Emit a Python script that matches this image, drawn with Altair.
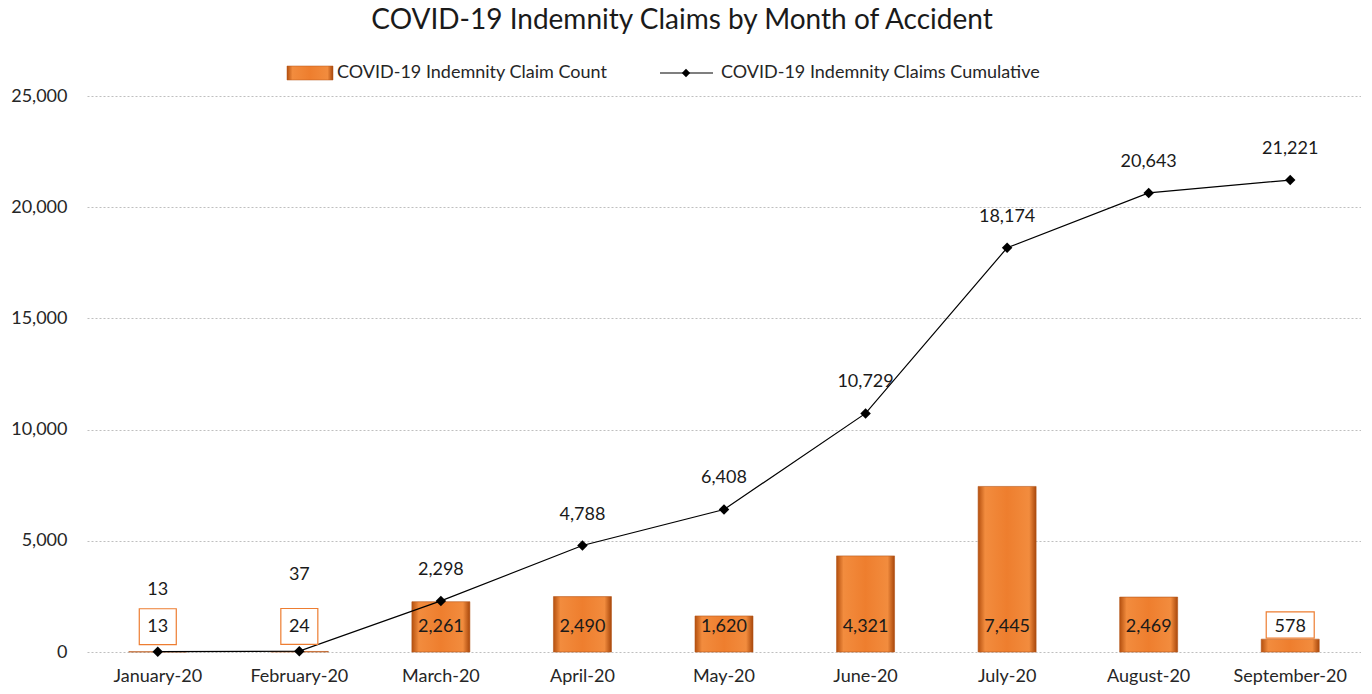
import altair as alt
import pandas as pd

months = ["January-20", "February-20", "March-20", "April-20", "May-20",
          "June-20", "July-20", "August-20", "September-20"]
counts = [13, 24, 2261, 2490, 1620, 4321, 7445, 2469, 578]
cumulative = [13, 37, 2298, 4788, 6408, 10729, 18174, 20643, 21221]
y_ticks = [0, 5000, 10000, 15000, 20000, 25000]

title_text = "COVID-19 Indemnity Claims by Month of Accident"
legend_bar = "COVID-19 Indemnity Claim Count"
legend_line = "COVID-19 Indemnity Claims Cumulative"

df = pd.DataFrame({"month": months, "count": counts, "cum": cumulative})
df["count_lbl"] = df["count"].map(lambda v: f"{v:,}")
df["cum_lbl"] = df["cum"].map(lambda v: f"{v:,}")

FONT = "Lato"
ORANGE = "#ED7D31"
TXT = "#1a1a1a"
grad = alt.LinearGradient(
    gradient="linear", x1=0, x2=1, y1=0, y2=0,
    stops=[alt.GradientStop(color="#B4500F", offset=0),
           alt.GradientStop(color="#F28C3E", offset=0.12),
           alt.GradientStop(color="#EE7E2E", offset=0.5),
           alt.GradientStop(color="#F28C3E", offset=0.88),
           alt.GradientStop(color="#A8470B", offset=1)])

XAX = alt.Axis(labelAngle=0, labelFont=FONT, labelFontSize=18,
               labelColor="#262626", domain=False, ticks=False,
               labelPadding=15, grid=False)
YAX = alt.Axis(values=y_ticks, format=",.0f", labelFont=FONT, labelFontSize=18,
               labelColor="#262626", domain=False, ticks=False, labelPadding=20,
               grid=True, gridColor="#BFBFBF", gridDash=[2, 2], gridWidth=1)
xscale = alt.Scale(paddingInner=0.0, paddingOuter=0.0)
yscale = alt.Scale(domain=[0, 25000], nice=False)
X = alt.X("month:N", sort=months, title=None, scale=xscale, axis=XAX)

base = alt.Chart(df)

bars = base.mark_bar(size=58, color=grad, stroke="#B5561A", strokeWidth=0.6).encode(
    x=X, y=alt.Y("count:Q", scale=yscale, title=None, axis=YAX))

small = base.transform_filter("datum.count < 1000")
box_narrow = small.transform_filter("datum.count < 100").mark_point(
    shape="M-1,-0.97L1,-0.97L1,0.97L-1,0.97Z", size=37 * 37, filled=True,
    fill="white", stroke=ORANGE, strokeWidth=1.2, opacity=1).encode(
    x=X, y=alt.Y("count:Q", scale=yscale, title=None, axis=YAX), yOffset=alt.value(-25))
box_wide = small.transform_filter("datum.count >= 100").mark_point(
    shape="M-1,-0.55L1,-0.55L1,0.55L-1,0.55Z", size=48 * 48, filled=True,
    fill="white", stroke=ORANGE, strokeWidth=1.2, opacity=1).encode(
    x=X, y=alt.value(556), yOffset=alt.value(-27))

bar_labels = base.mark_text(font=FONT, fontSize=18, color=TXT, dy=-25).encode(
    x=X, y=alt.value(556), text="count_lbl:N")

Ycum = alt.Y("cum:Q", scale=yscale, title=None, axis=YAX)
line = base.mark_line(color="black", strokeWidth=1.2).encode(x=X, y=Ycum)
pts = base.mark_point(shape="diamond", size=110, filled=True, color="black", opacity=1).encode(
    x=X, y=Ycum)

cum_labels_main = base.transform_filter("datum.cum > 1000").mark_text(
    font=FONT, fontSize=18, color=TXT, dy=-31).encode(x=X, y=Ycum, text="cum_lbl:N")
cum_labels_jan = base.transform_filter("datum.month == 'January-20'").mark_text(
    font=FONT, fontSize=18, color=TXT, dy=-62).encode(x=X, y=Ycum, text="cum_lbl:N")
cum_labels_feb = base.transform_filter("datum.month == 'February-20'").mark_text(
    font=FONT, fontSize=18, color=TXT, dy=-76).encode(x=X, y=Ycum, text="cum_lbl:N")

one = alt.Chart(alt.Data(values=[{"a": 1}]))
title = one.mark_text(font=FONT, fontSize=28, color=TXT, align="center", baseline="alphabetic").encode(
    x=alt.value(595), y=alt.value(-67), text=alt.value(title_text))
leg_sw = one.mark_rect(color=grad, stroke="#B5561A", strokeWidth=0.5).encode(
    x=alt.value(200), x2=alt.value(246), y=alt.value(-30), y2=alt.value(-16))
leg_t1 = one.mark_text(font=FONT, fontSize=18, color="#262626", align="left", baseline="middle").encode(
    x=alt.value(250), y=alt.value(-23), text=alt.value(legend_bar))
leg_ln = one.mark_rule(color="black", strokeWidth=1.2).encode(
    x=alt.value(573), x2=alt.value(626), y=alt.value(-23))
leg_dm = one.mark_point(shape="diamond", size=70, filled=True, color="black", opacity=1).encode(
    x=alt.value(599), y=alt.value(-23))
leg_t2 = one.mark_text(font=FONT, fontSize=18, color="#262626", align="left", baseline="middle").encode(
    x=alt.value(634), y=alt.value(-23), text=alt.value(legend_line))

chart = alt.layer(
    bars, line, pts, box_narrow, box_wide, bar_labels,
    cum_labels_main, cum_labels_jan, cum_labels_feb,
    title, leg_sw, leg_t1, leg_ln, leg_dm, leg_t2,
).properties(
    width=1274, height=556,
    autosize=alt.AutoSizeParams(type="none"),
    padding={"left": 79, "top": 88, "right": 0, "bottom": 38},
).configure_view(stroke=None)

chart.save("out.html", embed_options={"renderer": "svg", "actions": False})
